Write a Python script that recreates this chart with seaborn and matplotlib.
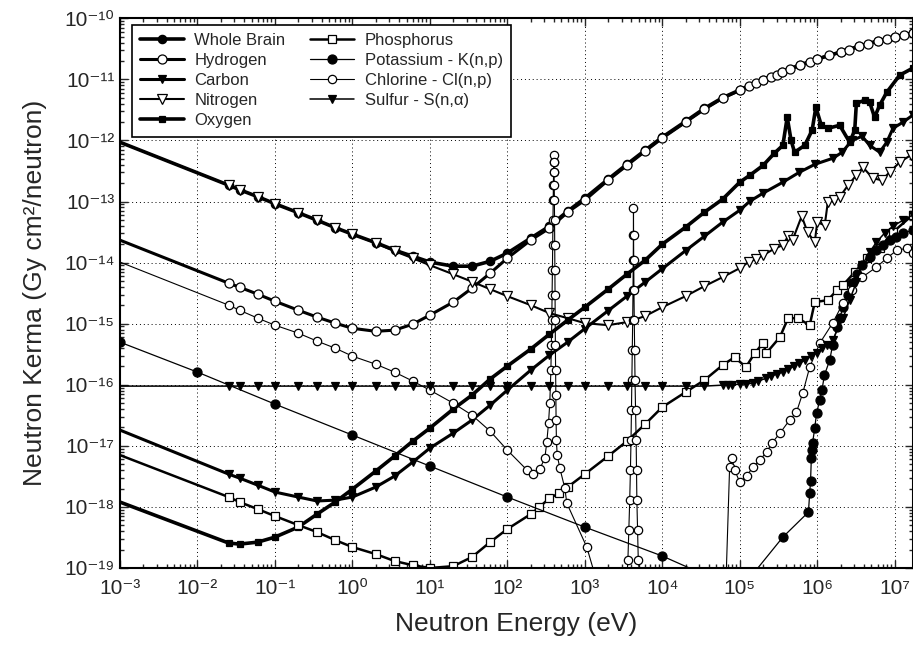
import numpy as np
import pandas as pd
import seaborn as sns
import matplotlib.pyplot as plt
from matplotlib.ticker import FixedLocator, NullFormatter, FuncFormatter

# ---- data (energy in eV, kerma in Gy cm^2/neutron) ----
e_low = [1e-3, 0.0253, 0.035, 0.06, 0.1, 0.2, 0.35, 0.6, 1, 2, 3.5, 6, 10, 20, 35, 60, 100]
e_mid = [200, 350, 600, 1e3, 2e3, 3.5e3, 6e3, 1e4, 2e4, 3.5e4, 6e4, 1e5]

brain_e = e_low + [200, 350, 600, 1e3, 2e3, 3.5e3, 6e3, 1e4, 2e4, 3.5e4, 6e4, 1e5,
                   2e5, 3.5e5, 6e5, 1e6, 2e6, 3.5e6, 6e6, 1e7, 1.7e7]
brain_k = [9.35e-13, 1.85e-13, 1.56e-13, 1.2e-13, 9.2e-14, 6.56e-14, 4.94e-14, 3.73e-14, 2.92e-14,
           2.12e-14, 1.6e-14, 1.27e-14, 1.02e-14, 8.73e-15, 8.73e-15, 1.05e-14, 1.43e-14,
           2.51e-14, 3.94e-14, 6.93e-14, 1.13e-13, 2.32e-13, 4.07e-13, 6.9e-13, 1.13e-12,
           2.05e-12, 3.35e-12, 5.0e-12, 6.7e-12, 9.9e-12, 1.33e-11, 1.72e-11, 2.15e-11, 2.8e-11,
           3.5e-11, 4.25e-11, 4.95e-11, 5.75e-11]

hydrogen_e = e_low + e_mid + [1.3e5, 1.6e5, 2e5, 2.5e5, 3e5, 3.5e5, 4.5e5, 6e5, 8e5, 1e6, 1.4e6, 2e6,
                              2.6e6, 3.5e6, 4.5e6, 6e6, 8e6, 1e7, 1.3e7, 1.7e7]
hydrogen_k = [2.33e-14, 4.6e-15, 3.95e-15, 3.04e-15, 2.33e-15, 1.66e-15, 1.28e-15, 1.02e-15, 8.4e-16,
              7.5e-16, 7.83e-16, 9.8e-16, 1.38e-15, 2.25e-15, 3.81e-15, 6.7e-15, 1.18e-14,
              2.33e-14, 3.66e-14, 6.68e-14, 1.05e-13, 2.23e-13, 3.9e-13, 6.65e-13, 1.09e-12,
              1.99e-12, 3.24e-12, 4.9e-12, 6.6e-12,
              7.71e-12, 8.63e-12, 9.7e-12, 1.08e-11, 1.19e-11, 1.31e-11, 1.46e-11, 1.7e-11, 1.91e-11,
              2.13e-11, 2.48e-11, 2.78e-11, 3.05e-11, 3.48e-11, 3.83e-11, 4.2e-11, 4.53e-11,
              4.89e-11, 5.27e-11, 5.69e-11]

carbon_e = e_low + e_mid + [1.35e5, 2e5, 3.6e5, 5.9e5, 9.4e5, 1.6e6, 2.1e6, 2.8e6, 3.8e6, 4.75e6,
                            6.4e6, 7.9e6, 9.5e6, 1.28e7, 1.7e7]
carbon_k = [1.81e-17, 3.44e-18, 2.96e-18, 2.27e-18, 1.75e-18, 1.45e-18, 1.25e-18, 1.29e-18, 1.45e-18,
            2.11e-18, 3.19e-18, 5.41e-18, 9.17e-18, 1.61e-17, 2.64e-17, 4.63e-17, 8.16e-17,
            1.73e-16, 3.05e-16, 4.98e-16, 8.28e-16, 1.63e-15, 2.82e-15, 4.78e-15, 7.93e-15,
            1.57e-14, 2.7e-14, 4.58e-14, 7.2e-14,
            1.01e-13, 1.37e-13, 2.07e-13, 3.02e-13, 4.08e-13, 5.12e-13, 6.41e-13, 1.0e-12,
            1.17e-12, 8.3e-13, 6.41e-13, 9.35e-13, 1.58e-12, 1.99e-12, 2.58e-12]

nitrogen_e = e_low + e_mid + [1.3e5, 1.6e5, 2e5, 2.8e5, 3.6e5, 4.2e5, 4.8e5, 6.3e5, 7.5e5, 9.3e5,
                              1.0e6, 1.25e6, 1.37e6, 1.65e6, 1.95e6, 2.5e6, 3.2e6, 3.9e6, 5.2e6,
                              6.8e6, 8.6e6, 1.16e7, 1.6e7]
nitrogen_k = [9.35e-13, 1.85e-13, 1.56e-13, 1.2e-13, 9.2e-14, 6.56e-14, 4.94e-14, 3.73e-14, 2.92e-14,
              2.08e-14, 1.54e-14, 1.18e-14, 9.06e-15, 6.45e-15, 4.87e-15, 3.67e-15, 2.82e-15,
              2.01e-15, 1.49e-15, 1.23e-15, 1.02e-15, 9.45e-16, 1.06e-15, 1.33e-15, 1.86e-15,
              2.82e-15, 4.11e-15, 5.77e-15, 8.1e-15,
              1.02e-14, 1.14e-14, 1.32e-14, 1.69e-14, 1.93e-14, 2.7e-14, 2.33e-14, 5.75e-14,
              3.15e-14, 2.16e-14, 4.58e-14, 4.09e-14, 9.75e-14, 1.05e-13, 1.18e-13, 1.85e-13,
              2.69e-13, 3.64e-13, 2.41e-13, 2.23e-13, 3.02e-13, 4.4e-13, 5.7e-13]

oxygen_e = e_low + e_mid + [1.35e5, 2e5, 2.8e5, 3.6e5, 4.1e5, 4.6e5, 5.1e5, 6.9e5, 8.6e5, 9.6e5,
                            1.13e6, 1.37e6, 1.95e6, 2.62e6, 3.05e6, 3.2e6, 4.1e6, 4.75e6, 5.5e6,
                            6.4e6, 7.9e6, 1.16e7, 1.7e7]
oxygen_k = [1.2e-18, 2.56e-19, 2.46e-19, 2.65e-19, 3.2e-19, 4.67e-19, 7.62e-19, 1.2e-18, 1.95e-18,
            3.85e-18, 6.78e-18, 1.19e-17, 1.95e-17, 3.99e-17, 6.77e-17, 1.24e-16, 2.02e-16,
            3.83e-16, 6.73e-16, 1.14e-15, 1.86e-15, 3.67e-15, 6.46e-15, 1.09e-14, 2.0e-14,
            3.8e-14, 6.68e-14, 1.09e-13, 2.07e-13,
            2.69e-13, 3.9e-13, 6.18e-13, 8.3e-13, 2.4e-12, 1.0e-12, 6.41e-13, 8.3e-13, 1.47e-12,
            3.49e-12, 1.77e-12, 1.58e-12, 1.77e-12, 9.35e-13, 1.47e-12, 4.06e-12, 4.55e-12,
            4.22e-12, 2.4e-12, 3.77e-12, 6.15e-12, 1.17e-11, 1.52e-11]

phosphorus_e = e_low + [200, 260, 350, 470, 600, 1e3, 2e3, 3.5e3, 6e3, 1e4, 2e4, 3.5e4, 6e4, 8.6e4,
                        1.2e5, 1.56e5, 2e5, 2.2e5, 3.3e5, 4.2e5, 5.6e5, 8e5, 9.3e5, 1.37e6, 1.8e6,
                        2.15e6, 3.05e6, 4.4e6, 6.4e6, 9.5e6, 1.7e7]
phosphorus_k = [7.05e-18, 1.45e-18, 1.2e-18, 9.2e-19, 7.08e-19, 5.04e-19, 3.87e-19, 2.86e-19, 2.2e-19,
                1.69e-19, 1.3e-19, 1.11e-19, 1.0e-19, 1.07e-19, 1.51e-19, 2.65e-19, 4.34e-19,
                7.6e-19, 9.93e-19, 1.39e-18, 1.68e-18, 2.11e-18, 3.44e-18, 6.78e-18, 1.19e-17,
                2.26e-17, 4.3e-17, 7.57e-17, 1.19e-16, 2.09e-16, 2.83e-16, 1.94e-16, 3.29e-16,
                4.8e-16, 3.29e-16, 6.01e-16, 1.23e-15, 1.23e-15, 9.45e-16, 2.25e-15, 2.43e-15,
                3.53e-15, 4.27e-15, 6.97e-15, 1.18e-14, 1.72e-14, 3.15e-14, 6.0e-14]

potassium_e = [1e-3, 0.01, 0.1, 1, 10, 100, 1e3, 1e4, 1e5, 3.6e5, 7.7e5, 8e5, 8.2e5, 8.4e5, 8.5e5,
               8.7e5, 9.3e5, 9.8e5, 1.08e6, 1.15e6, 1.24e6, 1.45e6, 1.58e6, 1.8e6, 1.95e6, 2.15e6,
               2.5e6, 2.8e6, 3.3e6, 3.8e6, 4.75e6, 5.8e6, 7e6, 8.6e6, 1.03e7, 1.28e7, 1.7e7]
potassium_k = [4.98e-16, 1.61e-16, 4.82e-17, 1.5e-17, 4.66e-18, 1.45e-18, 4.67e-19, 1.57e-19, 4.3e-20,
               3.2e-19, 8.22e-19, 1.68e-18, 2.64e-18, 6.3e-18, 8.5e-18, 1.11e-17, 1.95e-17,
               3.43e-17, 5.6e-17, 8.16e-17, 1.44e-16, 2.53e-16, 4.45e-16, 8.77e-16, 1.23e-15,
               1.86e-15, 2.92e-15, 4.6e-15, 6.46e-15, 9.06e-15, 1.22e-14, 1.6e-14, 1.93e-14,
               2.33e-14, 2.6e-14, 3.03e-14, 3.39e-14]

chlorine_e = e_low + [180, 213, 262, 305, 323, 340, 353, 365, 370, 375, 378, 382, 385, 388, 391, 393,
                      395, 396.5, 398, 399.5, 401, 403, 405, 407, 409, 411, 413, 415, 417, 420, 423,
                      426, 430, 440, 476, 552, 586, 1060, 1350, 2500, 3400, 3600, 3700, 3800, 3880,
                      3950, 4000, 4050, 4100, 4150, 4190, 4220, 4240, 4250, 4260, 4280, 4310, 4350,
                      4400, 4450, 4520, 4600, 4650, 4700, 4800, 4900, 5400, 1.5e4, 6e4, 7.4e4,
                      7.9e4, 8.6e4, 1e5, 1.23e5, 1.47e5, 1.8e5, 2.23e5, 2.6e5, 3.3e5, 4.4e5, 5.4e5,
                      6.5e5, 8e5, 1.08e6, 1.58e6, 2.15e6, 2.8e6, 3.8e6, 5.8e6, 7.9e6, 1.07e7,
                      1.46e7, 1.7e7]
chlorine_k = [1.02e-14, 2.01e-15, 1.66e-15, 1.23e-15, 9.45e-16, 7.0e-16, 5.18e-16, 3.97e-16, 2.94e-16,
              2.17e-16, 1.61e-16, 1.15e-16, 8.16e-17, 5.0e-17, 3.18e-17, 1.74e-17, 8.5e-18,
              4.0e-18, 3.44e-18, 4.16e-18, 6.3e-18, 1.15e-17, 2.35e-17, 5.0e-17, 1.73e-16,
              4.45e-16, 1.14e-15, 2.92e-15, 7.5e-15, 1.93e-14, 4.94e-14, 1.05e-13, 1.85e-13,
              3.02e-13, 4.4e-13, 5.7e-13, 4.4e-13, 3.02e-13, 1.85e-13, 1.05e-13, 4.94e-14,
              1.93e-14, 7.5e-15, 2.92e-15, 1.14e-15, 4.45e-16, 1.73e-16, 6.76e-17, 2.64e-17,
              1.24e-17, 7.05e-18, 4.32e-18, 2.03e-18, 1.15e-18, 2.2e-19, 7.7e-20, 1.0e-20,
              4.0e-20, 1.35e-19, 4.17e-19, 1.29e-18, 4.0e-18, 1.24e-17, 3.84e-17, 1.19e-16,
              3.68e-16, 1.14e-15, 3.53e-15, 1.09e-14, 2.81e-14, 7.76e-14, 2.81e-14, 1.09e-14,
              3.53e-15, 1.14e-15, 3.68e-16, 1.19e-16, 3.84e-17, 1.24e-17, 4.0e-18, 1.29e-18,
              4.17e-19, 1.35e-19, 4.0e-20, 5.0e-21, 1.0e-21, 4.48e-18, 6.3e-18, 4.0e-18,
              2.55e-18, 3.19e-18, 4.48e-18, 5.83e-18, 7.9e-18, 1.11e-17, 1.61e-17, 2.64e-17,
              3.56e-17, 7.3e-17, 1.94e-16, 4.8e-16, 1.02e-15, 2.17e-15, 3.53e-15, 5.77e-15,
              8.4e-15, 1.18e-14, 1.6e-14, 1.72e-14, 1.43e-14]

sulfur_e = e_low + [200, 350, 600, 1e3, 2e3, 3.5e3, 6e3, 1e4, 2e4, 3.5e4,
                    6e4, 7e4, 8e4, 1e5, 1.2e5, 1.47e5, 1.7e5, 2.2e5, 2.5e5, 3e5, 3.6e5, 4.2e5, 5e5,
                    5.9e5, 7e5, 8.3e5, 9.8e5, 1.15e6, 1.35e6, 1.58e6, 2.15e6, 2.62e6, 3.2e6,
                    3.8e6, 4.75e6, 5.8e6, 7.4e6, 9.5e6, 1.28e7, 1.7e7]
sulfur_k = [9.5e-17] * 27 + [9.85e-17, 9.9e-17, 1.0e-16, 1.02e-16, 1.03e-16, 1.06e-16, 1.14e-16,
                             1.28e-16, 1.37e-16, 1.5e-16, 1.61e-16, 1.8e-16, 2.0e-16, 2.26e-16,
                             2.53e-16, 2.94e-16, 3.29e-16, 3.97e-16, 4.45e-16, 5.37e-16, 1.23e-15,
                             2.43e-15, 4.78e-15, 9.06e-15, 1.48e-14, 2.16e-14, 3.03e-14, 3.94e-14,
                             4.94e-14, 6.0e-14]

# label, energies, kerma, marker, filled, line width, marker size, marker on first point
series = [
    ("Whole Brain", brain_e, brain_k, "o", True, 2.6, 6.0, False),
    ("Hydrogen", hydrogen_e, hydrogen_k, "o", False, 2.2, 6.5, False),
    ("Carbon", carbon_e, carbon_k, "v", True, 2.2, 5.5, False),
    ("Nitrogen", nitrogen_e, nitrogen_k, "v", False, 1.5, 6.5, False),
    ("Oxygen", oxygen_e, oxygen_k, "s", True, 2.6, 5.0, False),
    ("Phosphorus", phosphorus_e, phosphorus_k, "s", False, 1.8, 6.0, False),
    ("Potassium - K(n,p)", potassium_e, potassium_k, "o", True, 0.9, 6.5, True),
    ("Chlorine - Cl(n,p)", chlorine_e, chlorine_k, "o", False, 0.8, 6.0, False),
    ("Sulfur - S(n,α)", sulfur_e, sulfur_k, "v", True, 1.1, 5.5, False),
]

x_decades = np.arange(-3, 8)
y_decades = np.arange(-19, -9)
SUP = str.maketrans("-0123456789", "⁻⁰¹²³⁴⁵⁶⁷⁸⁹")


def pow10(v, pos):
    return "10" + str(int(round(np.log10(v)))).translate(SUP)


def minor_ticks(decades, hi):
    t = [m * 10.0 ** d for d in decades for m in range(2, 10)]
    return [v for v in t if v <= hi]


sns.set_style("ticks")
plt.rcParams["font.family"] = ["Liberation Sans", "DejaVu Sans"]

fig, ax = plt.subplots(figsize=(9.13, 6.53), dpi=100)
fig.subplots_adjust(left=0.1314, right=0.9995, bottom=0.1302, top=0.972)
ax.set_xscale("log")
ax.set_yscale("log")

for label, e, k, mk, filled, lw, ms, first in series:
    df = pd.DataFrame({"energy": e, "kerma": k})
    sns.lineplot(data=df, x="energy", y="kerma", ax=ax, sort=False, estimator=None,
                 errorbar=None, color="black", linewidth=lw, marker=mk, markersize=ms,
                 markerfacecolor="black" if filled else "white", markeredgecolor="black",
                 markeredgewidth=0.9, markevery=None if first else slice(1, None),
                 label=label)

ax.set_xlim(1e-3, 1.7e7)
ax.set_ylim(1e-19, 1e-10)

ax.xaxis.set_major_locator(FixedLocator(10.0 ** x_decades))
ax.yaxis.set_major_locator(FixedLocator(10.0 ** y_decades))
ax.xaxis.set_minor_locator(FixedLocator(minor_ticks(x_decades, 1.7e7)))
ax.yaxis.set_minor_locator(FixedLocator(minor_ticks(y_decades[:-1], 1e-10)))
ax.xaxis.set_major_formatter(FuncFormatter(pow10))
ax.yaxis.set_major_formatter(FuncFormatter(pow10))
ax.xaxis.set_minor_formatter(NullFormatter())
ax.yaxis.set_minor_formatter(NullFormatter())
ax.tick_params(which="both", direction="in", top=True, right=True, width=1.0)
ax.tick_params(which="major", length=6, labelsize=15)
ax.tick_params(which="minor", length=3)
ax.tick_params(axis="x", pad=8)
ax.tick_params(axis="y", pad=4)
ax.grid(True, which="major", color="black", linestyle=(0, (1, 3)), linewidth=0.7)
for sp in ax.spines.values():
    sp.set_linewidth(1.5)
    sp.set_color("black")

ax.set_xlabel("Neutron Energy (eV)", fontsize=19, labelpad=10)
ax.set_ylabel("Neutron Kerma (Gy cm²/neutron)", fontsize=19, labelpad=12)

leg = ax.legend(loc="upper left", bbox_to_anchor=(0.015, 0.988), borderaxespad=0, ncol=2,
                fontsize=12, frameon=True, fancybox=False, framealpha=1, edgecolor="black",
                numpoints=1, handlelength=2.6, handletextpad=0.65, columnspacing=1.5,
                labelspacing=0.3, borderpad=0.5)
leg.get_frame().set_linewidth(1.2)
for h in leg.get_lines():
    h.set_markevery([1])

fig.savefig("out.png", dpi=100)
